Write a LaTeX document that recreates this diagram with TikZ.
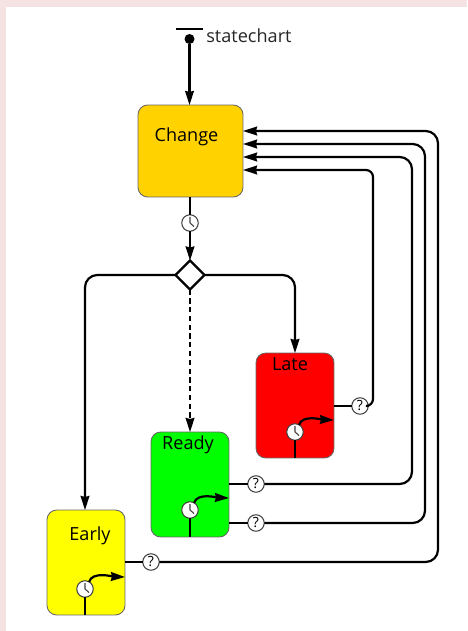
\documentclass[tikz,border=0pt]{standalone}
\usepackage{fontspec}
\setmainfont{Open Sans}
\usetikzlibrary{arrows.meta,shapes.geometric}
\definecolor{pagepink}{HTML}{F5E3E3}
\definecolor{changegold}{HTML}{FFD200}
\definecolor{lateRed}{HTML}{FF0000}
\definecolor{readyGreen}{HTML}{00FF00}
\definecolor{earlyYellow}{HTML}{FFFF00}
\tikzset{
	trans/.style={line width=1.25pt,-{Stealth[length=8pt,width=5pt,inset=0.6pt]}},
	plainline/.style={line width=1.25pt},
	statebox/.style={draw=black!60,line width=0.5pt,rounded corners=5.5pt,minimum width=1.56cm,minimum height=2.1cm,inner sep=0pt,outer sep=0pt},
	statename/.style={font=\fontsize{10.3}{12}\selectfont,inner sep=0pt,anchor=base},
	clockmark/.style={circle,draw=black!75,fill=white,line width=0.6pt,minimum size=0.33cm,inner sep=0pt,outer sep=0pt,
		path picture={\draw[line width=0.6pt] (path picture bounding box.center) -- ++(0,-6) (path picture bounding box.center) -- ++(4,3.5);}},
	guardmark/.style={circle,draw=black!75,fill=white,line width=0.6pt,minimum size=0.33cm,inner sep=0pt,outer sep=0pt,font=\fontsize{8}{8}\selectfont}
}
\begin{document}
\begin{tikzpicture}[x=0.02cm,y=-0.02cm]
		\fill [color=pagepink] (0,0) rectangle (467,631);
		\fill [color=white] (6,7) rectangle (467,631);
		\useasboundingbox (0,0) rectangle (467,631);
		
		\node [statebox,fill=changegold,minimum width=2.1cm,minimum height=1.84cm] (Change) at (190.5,151) {};
		\node [statebox,fill=lateRed] (Late) at (295,405.5) {};
		\node [statebox,fill=readyGreen] (Ready) at (190,484.5) {};
		\node [statebox,fill=earlyYellow] (Early) at (86,562.5) {};
		
		\node [statename] (ChangeName) at (186.5,142) {Change};
		\node [statename] (LateName) at (290,370) {Late};
		\node [statename] (ReadyName) at (188,449) {Ready};
		\node [statename] (EarlyName) at (90,540) {Early};
		
		\node [fill,circle,inner sep=0pt,minimum size=0.2cm] (init) at (189.5,39) {};
		\node [fill,inner sep=0pt,minimum width=0.54cm,minimum height=1.2pt] (initbar) at (189.5,29) {};
		\node [statename,anchor=base west,text=black!85] (initName) at (206,43) {statechart};
		
		\node [clockmark] (clockChange) at (190,223) {};
		\node [diamond,draw,fill=white,line width=1.25pt,minimum size=0.58cm,inner sep=0pt,outer sep=0pt] (branch) at (190,275) {};
		
		\node [clockmark] (clockLate) at (295,432) {};
		\node [clockmark] (clockReady) at (190,510) {};
		\node [clockmark] (clockEarly) at (85,589) {};
		
		\node [guardmark] (guardLate) at (360,406) {?};
		\node [guardmark] (guardReadyA) at (256,484) {?};
		\node [guardmark] (guardReadyB) at (256,523) {?};
		\node [guardmark] (guardEarly) at (151,562) {?};
		
		\coordinate (topEarly) at (85,510);
		\coordinate (inEarly) at (243,131);
		\coordinate (inReadyB) at (243,144);
		\coordinate (inReadyA) at (243,157);
		\coordinate (inLate) at (243,170);
		\coordinate (turnEarly) at (438,131);
		\coordinate (turnReadyB) at (425,144);
		\coordinate (turnReadyA) at (412,157);
		\coordinate (turnLate) at (373,170);
		
		\draw [trans] (init) -- (Change.north -| init);
		\draw [plainline] (Change.south -| clockChange) -- (clockChange);
		\draw [trans] (clockChange) -- (branch);
		\draw [trans,rounded corners=7pt] (branch.west) -| (topEarly);
		\draw [trans,rounded corners=7pt] (branch.east) -| (Late.north);
		\draw [trans,dash pattern=on 3pt off 2pt] (branch) -- (Ready.north -| branch);
		
		\draw [plainline] (Late.east |- guardLate) -- (guardLate);
		\draw [plainline] (Ready.east |- guardReadyA) -- (guardReadyA);
		\draw [plainline] (Ready.east |- guardReadyB) -- (guardReadyB);
		\draw [plainline] (Early.east |- guardEarly) -- (guardEarly);
		\draw [trans,rounded corners=4pt] (guardLate.east) -| (turnLate) [rounded corners=7pt] -- (inLate);
		\draw [trans,rounded corners=7pt] (guardReadyA.east) -| (turnReadyA) -- (inReadyA);
		\draw [trans,rounded corners=7pt] (guardReadyB.east) -| (turnReadyB) -- (inReadyB);
		\draw [trans,rounded corners=7pt] (guardEarly.east) -| (turnEarly) -- (inEarly);
		
		\draw [plainline] (Late.south -| clockLate) -- (clockLate);
		\draw [plainline] (Ready.south -| clockReady) -- (clockReady);
		\draw [plainline] (Early.south -| clockEarly) -- (clockEarly);
		\coordinate (tipLate) at (334,420);
		\coordinate (tipReady) at (229,498);
		\coordinate (tipEarly) at (125,577);
		\draw [trans] (clockLate.60) to [out=75,in=178,looseness=0.8] (tipLate);
		\draw [trans] (clockReady.60) to [out=75,in=178,looseness=0.8] (tipReady);
		\draw [trans] (clockEarly.60) to [out=75,in=178,looseness=0.8] (tipEarly);
\end{tikzpicture}
\end{document}
